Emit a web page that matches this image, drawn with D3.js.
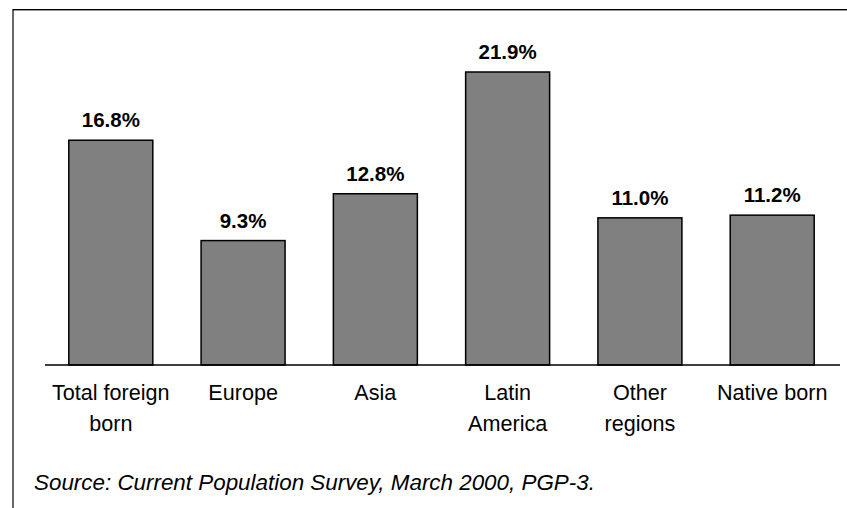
<!DOCTYPE html>
<html>
<head>
<meta charset="utf-8">
<script src="https://cdn.jsdelivr.net/npm/d3@7"></script>
<style>
  body { margin: 0; background: #fff; }
  svg { display: block; font-family: Arial, "Liberation Sans", sans-serif; }
</style>
</head>
<body>
<div id="chart"></div>
<script>
var categories = [["Total foreign", "born"], ["Europe"], ["Asia"], ["Latin", "America"], ["Other", "regions"], ["Native born"]];
var values = [16.8, 9.3, 12.8, 21.9, 11.0, 11.2];
var sourceNote = "Source: Current Population Survey, March 2000, PGP-3.";

var _width = 847, _height = 508;
var _margins = { top: 72, right: 9, bottom: 143, left: 45 };

var svg = d3.select("#chart").append("svg")
  .attr("width", _width)
  .attr("height", _height);

// frame: left and top rule only
svg.append("line")
  .attr("x1", 13).attr("y1", 9.5).attr("x2", _width).attr("y2", 9.5)
  .attr("stroke", "#000").attr("stroke-width", 1.2);
svg.append("line")
  .attr("x1", 13).attr("y1", 10.5).attr("x2", _width).attr("y2", 10.5)
  .attr("stroke", "#999").attr("stroke-width", 1);
svg.append("line")
  .attr("x1", 13).attr("y1", 9).attr("x2", 13).attr("y2", _height)
  .attr("stroke", "#000").attr("stroke-width", 1.2);

var idx = d3.range(values.length);

var x = d3.scaleBand()
  .domain(idx)
  .range([_margins.left, 838])
  .paddingInner(0.365)
  .paddingOuter(0.18);

var y = d3.scaleLinear()
  .domain([0, 21.9])
  .range([_height - _margins.bottom, _margins.top]);

var bodyG = svg.append("g").attr("class", "body");

bodyG.selectAll("rect.bar")
  .data(values)
  .enter().append("rect")
  .attr("class", "bar")
  .attr("x", function(d, i) { return x(i); })
  .attr("y", function(d) { return y(d); })
  .attr("width", x.bandwidth())
  .attr("height", function(d) { return y(0) - y(d); })
  .attr("fill", "#808080")
  .attr("stroke", "#000")
  .attr("stroke-width", 1.5);

bodyG.selectAll("text.val")
  .data(values)
  .enter().append("text")
  .attr("class", "val")
  .attr("x", function(d, i) { return x(i) + x.bandwidth() / 2; })
  .attr("y", function(d) { return y(d) - 13; })
  .attr("text-anchor", "middle")
  .attr("font-size", "20.5px")
  .attr("font-weight", "bold")
  .text(function(d) { return d.toFixed(1) + "%"; });

// baseline
svg.append("line")
  .attr("x1", _margins.left).attr("x2", 840)
  .attr("y1", y(0)).attr("y2", y(0))
  .attr("stroke", "#000").attr("stroke-width", 1.5);

var labels = svg.selectAll("text.cat")
  .data(categories)
  .enter().append("text")
  .attr("class", "cat")
  .attr("text-anchor", "middle")
  .attr("font-size", "21.6px")
  .attr("fill", "#000")
  .attr("transform", function(d, i) { return "translate(" + (x(i) + x.bandwidth() / 2) + "," + (y(0) + 35) + ")"; });

labels.selectAll("tspan")
  .data(function(d) { return d; })
  .enter().append("tspan")
  .attr("x", 0)
  .attr("dy", function(d, j) { return j ? 31 : 0; })
  .text(function(d) { return d; });

svg.append("text")
  .attr("x", 34)
  .attr("y", 490)
  .attr("font-size", "22.4px")
  .attr("font-style", "italic")
  .text(sourceNote);
</script>
</body>
</html>
